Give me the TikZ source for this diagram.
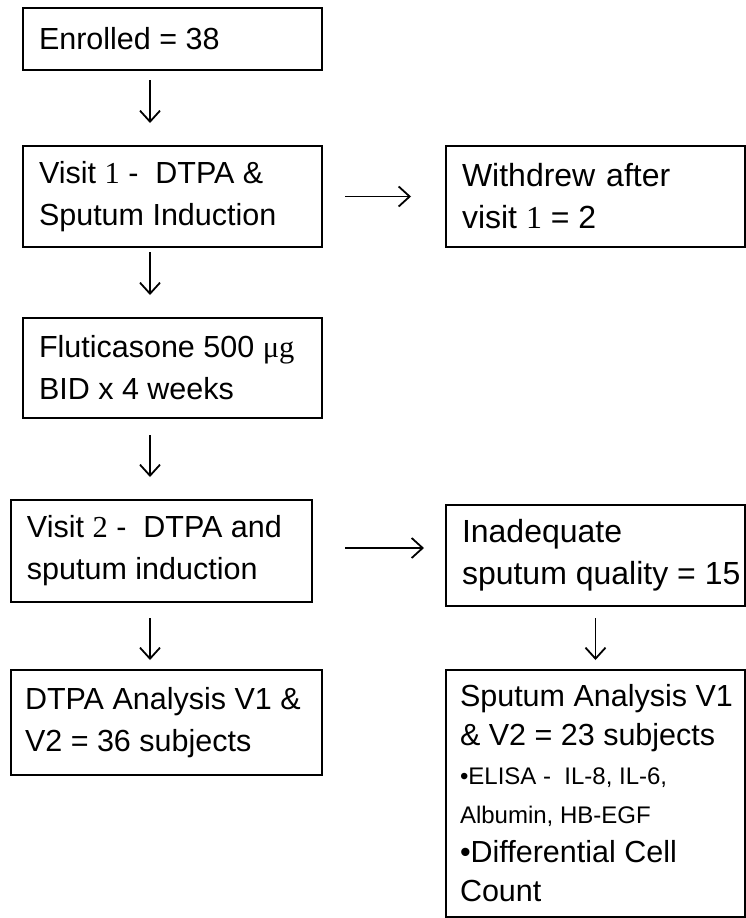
\documentclass[tikz,border=0pt]{standalone}
\usepackage{fontspec}
\setmainfont{Liberation Sans}
\newfontfamily\numfont{Liberation Serif}
\usetikzlibrary{arrows.meta}

\tikzset{
  stage/.style={draw, line width=2.6pt, rectangle, anchor=north west, outer sep=0pt,
    inner xsep=16pt, inner ysep=0pt, align=flush left, font=\fontsize{30.5}{42}\selectfont},
  flow/.style={line width=1.8pt, -{Straight Barb[length=11pt,width=20pt,line width=1.8pt]}},
}
\newcommand{\smalltxt}{\fontsize{24}{39}\selectfont}

\begin{document}
\begin{tikzpicture}[x=1pt, y=-1pt]
  \useasboundingbox (0,0) rectangle (746,918);

  % left column
  \node[stage, minimum width=299pt, minimum height=62pt, text width=267pt] (enrol) at (23,8) {Enrolled = 38};
  \node[stage, minimum width=299pt, minimum height=101pt, text width=267pt] (visit1) at (23,146)
    {Visit {\numfont 1} -\ \ DTPA \&\\Sputum Induction};
  \node[stage, minimum width=299pt, minimum height=100pt, text width=267pt, inner xsep=14pt] (fluti) at (23,318)
    {\mbox{Fluticasone 500 {\numfont μg}}\\BID x 4 weeks};
  \node[stage, minimum width=301pt, minimum height=102pt, text width=269pt] (visit2) at (11,500)
    {\mbox{Visit {\numfont 2} -\ \ DTPA and}\\sputum induction};
  \node[stage, minimum width=311pt, minimum height=105pt, text width=283pt, inner xsep=14pt] (dtpa) at (11,670)
    {\mbox{DTPA Analysis V1 \&}\\V2 = 36 subjects};

  % right column
  \node[stage, minimum width=299pt, minimum height=101pt, text width=267pt,
    font=\fontsize{32}{42}\selectfont] (withdrew) at (446,146)
    {Withdrew\hspace{2pt} after\\visit {\numfont 1} = 2};
  \node[stage, minimum width=299pt, minimum height=101pt, text width=267pt,
    font=\fontsize{32}{42}\selectfont] (inadeq) at (446,505)
    {Inadequate\\\mbox{sputum quality = 15}};
  \node[stage, minimum width=299pt, minimum height=247pt, text width=271pt, inner xsep=14pt,
    font=\fontsize{30.5}{39}\selectfont] (sputum) at (446,670)
    {\mbox{Sputum Analysis V1}\\\mbox{\& V2 = 23 subjects}\\{\smalltxt •ELISA -\ \ IL-8, IL-6,}\\{\smalltxt Albumin, HB-EGF}\\\mbox{•Differential Cell}\\Count};

  % arrows
  \draw[flow, shorten <=10pt, shorten >=23pt] ([xshift=-22.5pt]enrol.south) -- ([xshift=-22.5pt]enrol.south |- visit1.north);
  \draw[flow, shorten <=5pt, shorten >=23pt] ([xshift=-22.5pt]visit1.south) -- ([xshift=-22.5pt]visit1.south |- fluti.north);
  \draw[flow, shorten <=17pt, shorten >=23pt] ([xshift=-22.5pt]fluti.south) -- ([xshift=-22.5pt]fluti.south |- visit2.north);
  \draw[flow, shorten <=16pt, shorten >=10pt] ([xshift=-11.5pt]visit2.south) -- ([xshift=-11.5pt]visit2.south |- dtpa.north);
  \draw[flow, shorten <=23pt, shorten >=35pt] (visit1.east) -- (withdrew.west);
  \draw[flow, shorten <=33pt, shorten >=22pt] ([yshift=3pt]visit2.east) -- ([yshift=3pt]visit2.east -| inadeq.west);
  \draw[flow, shorten <=12pt, shorten >=10pt] (inadeq.south) -- (sputum.north);
\end{tikzpicture}
\end{document}
